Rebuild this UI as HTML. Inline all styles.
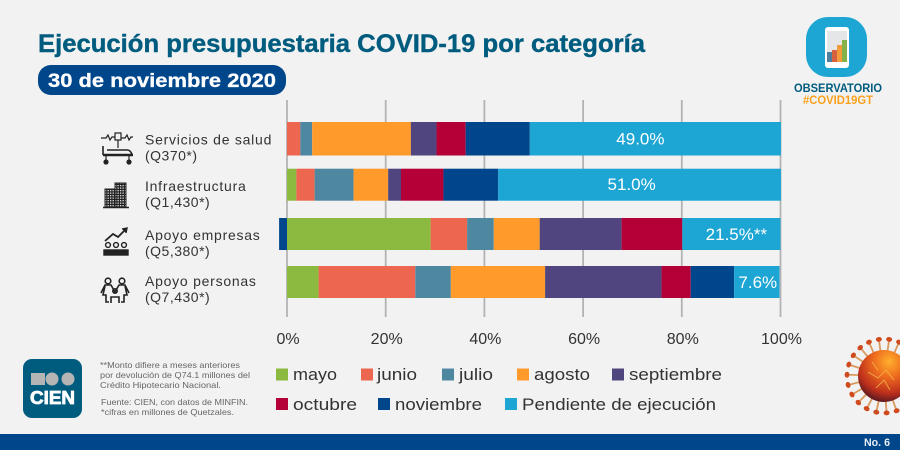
<!DOCTYPE html>
<html lang="es">
<head>
<meta charset="utf-8">
<title>Ejecución presupuestaria COVID-19 por categoría</title>
<style>
html,body{margin:0;padding:0;background:#f2f2f2;}
svg{display:block;font-family:"Liberation Sans",sans-serif;}
</style>
</head>
<body>
<svg id="chart" xmlns="http://www.w3.org/2000/svg" width="900" height="450" viewBox="0 0 900 450">
<defs>
<radialGradient id="virusBody" cx="0.6" cy="0.22" r="0.85">
<stop offset="0" stop-color="#ffb02e"/><stop offset="0.35" stop-color="#ee6d1e"/><stop offset="0.72" stop-color="#bd2f1c"/><stop offset="1" stop-color="#3e1222"/>
</radialGradient>
<g id="spike"><line x1="0" y1="-24" x2="0" y2="-36" stroke="#d9995c" stroke-width="1.8"/><ellipse cx="0" cy="-37" rx="3" ry="2.4" fill="#cf4a1c"/></g>
<pattern id="windows" width="2.5" height="2.5" patternUnits="userSpaceOnUse"><rect width="2.5" height="2.5" fill="#222"/><rect width="1.300" height="1.300" fill="#ddd"/></pattern>
</defs>
<rect width="900" height="450" fill="#f2f2f2"/>
<text x="38" y="52" font-size="25" font-weight="700" fill="#005c7f" stroke="#005c7f" stroke-width="0.4" textLength="607" lengthAdjust="spacingAndGlyphs">Ejecución presupuestaria COVID-19 por categoría</text>
<rect x="38" y="65" width="248" height="30" rx="13" fill="#00468b"/>
<text x="48" y="87" font-size="19" font-weight="700" fill="#fff" stroke="#fff" stroke-width="0.3" textLength="228" lengthAdjust="spacingAndGlyphs">30 de noviembre 2020</text>

<g>
<rect x="806" y="17" width="61" height="60" rx="22" fill="#1da5d4"/>
<rect x="825" y="27" width="24" height="41" rx="3" fill="#fff"/>
<rect x="827" y="31" width="20" height="31" fill="#e4e6e8"/>
<rect x="827" y="52" width="5" height="10" fill="#4d7f9c"/>
<rect x="832" y="50" width="5" height="12" fill="#d9603f"/>
<rect x="837" y="45" width="5" height="17" fill="#f39a3a"/>
<rect x="842" y="40" width="5" height="22" fill="#84b24a"/>
<text x="794" y="92" font-size="11.5" font-weight="700" fill="#005c7f" textLength="88" lengthAdjust="spacingAndGlyphs">OBSERVATORIO</text>
<text x="803" y="104" font-size="11.5" font-weight="700" fill="#f9a11b" textLength="70" lengthAdjust="spacingAndGlyphs">#COVID19GT</text>
</g>

<g id="grid"></g>
<g id="bars"></g>
<g id="values"></g>
<g id="ticks"></g>
<g id="cats"></g>

<g fill="none" stroke="#222" stroke-width="1.2">
<path d="M101 138h5l2-3 2 5 2-3h3M121 138h4l2-3 2 5 2-3h2"/>
<rect x="115" y="133" width="6" height="7"/>
<line x1="118" y1="140" x2="118" y2="148"/>
<path d="M103 155h30" stroke-width="2.4"/>
<path d="M103 146v9M107 150h20q4 0 5 5" stroke-width="1.6"/>
<line x1="106" y1="155" x2="106" y2="161"/><line x1="129" y1="155" x2="129" y2="161"/>
<circle cx="106" cy="162" r="2" fill="#222"/><circle cx="129" cy="162" r="2" fill="#222"/>
</g>
<g fill="none" stroke="#222" stroke-width="1">
<rect x="105" y="189" width="10" height="18" fill="url(#windows)"/>
<rect x="115" y="183" width="11" height="24" fill="url(#windows)"/>
<path d="M103 207.500h26" stroke-width="1.4"/>
</g>
<g fill="none" stroke="#222" stroke-width="1.4">
<path d="M105 241l8-7 5 3 8-8" stroke-width="1.8"/><path d="M122 229l5-1-1 5" fill="#222"/>
<circle cx="108" cy="245" r="2.4"/><circle cx="116" cy="245" r="2.4"/><circle cx="124" cy="245" r="2.4"/>
<rect x="104" y="250" width="24" height="5" fill="#222"/>
</g>
<g fill="none" stroke="#222" stroke-width="1.6">
<circle cx="108" cy="281" r="2.8"/><circle cx="122" cy="281" r="2.8"/><circle cx="115" cy="291" r="2.2"/>
<path d="M101 293l4-8h6l4 7 4-7h6l4 8M105 286l-2 9h3v7h3M125 286l2 9h-3v7h-3M111 303v-6h8v6"/>
</g>

<g font-size="17" fill="#333">
<rect x="276" y="368.500" width="12" height="12" fill="#8cb93f"/>
<text x="293" y="380" textLength="44" lengthAdjust="spacingAndGlyphs">mayo</text>
<rect x="361" y="368.500" width="12" height="12" fill="#ec6650"/>
<text x="377" y="380" textLength="40" lengthAdjust="spacingAndGlyphs">junio</text>
<rect x="442" y="368.500" width="12" height="12" fill="#4d88a0"/>
<text x="459" y="380" textLength="34" lengthAdjust="spacingAndGlyphs">julio</text>
<rect x="517" y="368.500" width="12" height="12" fill="#ff9a2b"/>
<text x="534" y="380" textLength="56" lengthAdjust="spacingAndGlyphs">agosto</text>
<rect x="612" y="368.500" width="12" height="12" fill="#50457f"/>
<text x="629" y="380" textLength="93" lengthAdjust="spacingAndGlyphs">septiembre</text>
<rect x="276" y="398" width="12" height="12" fill="#b50037"/>
<text x="293" y="410" textLength="64" lengthAdjust="spacingAndGlyphs">octubre</text>
<rect x="378" y="398" width="12" height="12" fill="#00468c"/>
<text x="395" y="410" textLength="87" lengthAdjust="spacingAndGlyphs">noviembre</text>
<rect x="505" y="398" width="12" height="12" fill="#1da5d4"/>
<text x="522" y="410" textLength="194" lengthAdjust="spacingAndGlyphs">Pendiente de ejecución</text>
</g>

<g>
<rect x="23" y="359" width="59" height="59" rx="9" fill="#005c7f"/>
<rect x="31" y="373" width="14" height="12" fill="#b5b5b5"/>
<circle cx="52" cy="379" r="6.500" fill="#b5b5b5"/>
<circle cx="68" cy="379" r="6.500" fill="#b5b5b5"/>
<text x="30" y="404" font-size="18" font-weight="700" fill="#fff" stroke="#fff" stroke-width="0.8" textLength="45" lengthAdjust="spacingAndGlyphs">CIEN</text>
</g>

<g font-size="8.500" fill="#666">
<text x="100" y="368" textLength="140" lengthAdjust="spacingAndGlyphs">**Monto difiere a meses anteriores</text>
<text x="100" y="378" textLength="150" lengthAdjust="spacingAndGlyphs">por devolución de Q74.1 millones del</text>
<text x="100" y="388" textLength="121" lengthAdjust="spacingAndGlyphs">Crédito Hipotecario Nacional.</text>
<text x="101" y="405" textLength="147" lengthAdjust="spacingAndGlyphs">Fuente: CIEN, con datos de MINFIN.</text>
<text x="101" y="415" textLength="133" lengthAdjust="spacingAndGlyphs">*cifras en millones de Quetzales.</text>
</g>

<g>
<use href="#spike" transform="translate(884 376) rotate(8)"/>
<use href="#spike" transform="translate(884 376) rotate(24)"/>
<use href="#spike" transform="translate(884 376) rotate(40)"/>
<use href="#spike" transform="translate(884 376) rotate(-8)"/>
<use href="#spike" transform="translate(884 376) rotate(-24)"/>
<use href="#spike" transform="translate(884 376) rotate(-40)"/>
<use href="#spike" transform="translate(884 376) rotate(-56)"/>
<use href="#spike" transform="translate(884 376) rotate(-72)"/>
<use href="#spike" transform="translate(884 376) rotate(-88)"/>
<use href="#spike" transform="translate(884 376) rotate(-104)"/>
<use href="#spike" transform="translate(884 376) rotate(-120)"/>
<use href="#spike" transform="translate(884 376) rotate(-136)"/>
<use href="#spike" transform="translate(884 376) rotate(-152)"/>
<use href="#spike" transform="translate(884 376) rotate(-168)"/>
<use href="#spike" transform="translate(884 376) rotate(176)"/>
<use href="#spike" transform="translate(884 376) rotate(160)"/>
<circle cx="884" cy="376" r="26" fill="url(#virusBody)"/>
<path d="M868 372l10 6 8-8 8 10M876 388l8-8 6 10M872 362l6 8" fill="none" stroke="#f6b24a" stroke-width="0.8"/>
</g>

<rect x="0" y="434" width="900" height="16" fill="#00468b"/>
<text x="864" y="446" font-size="11" font-weight="700" fill="#e8eef4" textLength="26" lengthAdjust="spacingAndGlyphs">No. 6</text>
</svg>
<script>
const categories = ['Servicios de salud', 'Infraestructura', 'Apoyo empresas', 'Apoyo personas'];
const budgets = ['(Q370*)', '(Q1,430*)', '(Q5,380*)', '(Q7,430*)'];
const seriesNames = ['mayo', 'junio', 'julio', 'agosto', 'septiembre', 'octubre', 'noviembre', 'pendiente'];
const mayo = [0, 1.9, 29.1, 6.4];
const junio = [2.7, 3.7, 7.4, 19.6];
const julio = [2.4, 7.9, 5.4, 7.2];
const agosto = [20.0, 7.0, 9.3, 19.1];
const septiembre = [5.2, 2.6, 16.6, 23.6];
const octubre = [5.9, 8.6, 12.3, 5.9];
const noviembre = [13.0, 11.1, -1.6, 8.8];
const pendiente = [50.9, 57.3, 19.9, 9.2];
const valueLabels = ['49.0%', '51.0%', '21.5%**', '7.6%'];
const tickValues = [0, 20, 40, 60, 80, 100];
const tickLabels = ['0%', '20%', '40%', '60%', '80%', '100%'];

const seriesValues = [mayo, junio, julio, agosto, septiembre, octubre, noviembre, pendiente];
const seriesColors = ['#8cb93f', '#ec6650', '#4d88a0', '#ff9a2b', '#50457f', '#b50037', '#00468c', '#1da5d4'];
const NS = 'http://www.w3.org/2000/svg';
const xScale = function (v) { return 287 + v * 4.935; };
const rowTop = function (i) { return 122 + i * 48 - (i === 1 ? 1.3 : 0); };
const rowHeight = function (i) { return i === 0 ? 33.5 : 32; };

function make(tag, parent, attrs) {
  const el = document.createElementNS(NS, tag);
  Object.keys(attrs).forEach(function (k) { el.setAttribute(k, attrs[k]); });
  parent.appendChild(el);
  return el;
}

const grid = document.getElementById('grid');
const ticks = document.getElementById('ticks');
tickValues.forEach(function (t, i) {
  const line = make('line', grid, { x1: xScale(t), x2: xScale(t), y1: 100, y2: 317, stroke: '#b3b3b3', 'stroke-width': 1.8 });
  
  
  const label = make('text', ticks, { x: xScale(t) + 1, y: 344, 'text-anchor': 'middle', 'font-size': 16, fill: '#333' });
  label.textContent = tickLabels[i];
  
  
});

const bars = document.getElementById('bars');
const segmentBounds = categories.map(function () { return null; });
categories.forEach(function (cat, r) {
  let pos = 0;
  let neg = 0;
  seriesValues.forEach(function (vals, s) {
    const v = vals[r];
    let from, to;
    if (v >= 0) { from = pos; to = pos + v; pos = to; }
    else { to = neg; from = neg + v; neg = from; }
    const rect = make('rect', bars, { x: xScale(from), y: rowTop(r), width: xScale(to) - xScale(from), height: rowHeight(r), fill: seriesColors[s] });
    
    
    if (s === seriesValues.length - 1) { segmentBounds[r] = [from, to]; }
  });
});

const valuesGroup = document.getElementById('values');
function drawValue(r, dx, baseline) {
  const b = segmentBounds[r];
  const t = make('text', valuesGroup, { x: (xScale(b[0]) + xScale(b[1])) / 2 + dx, y: baseline, 'text-anchor': 'middle', 'font-size': 17, fill: '#fff' });
  t.textContent = valueLabels[r];
  
  
}
drawValue(0, -15, 144.5);
drawValue(1, -8, 190);
drawValue(2, 5, 240);
drawValue(3, 1, 288);

const cats = document.getElementById('cats');
function drawCategory(r, nameY) {
  const n = make('text', cats, { x: 145, y: nameY, 'font-size': 14, 'letter-spacing': 0.75, fill: '#333' });
  n.textContent = categories[r];
  
  
  const q = make('text', cats, { x: 145, y: nameY + 16, 'font-size': 14, 'letter-spacing': 0.5, fill: '#333' });
  q.textContent = budgets[r];
  
  
}
drawCategory(0, 144.5);
drawCategory(1, 191);
drawCategory(2, 240);
drawCategory(3, 286);
</script>
</body>
</html>
